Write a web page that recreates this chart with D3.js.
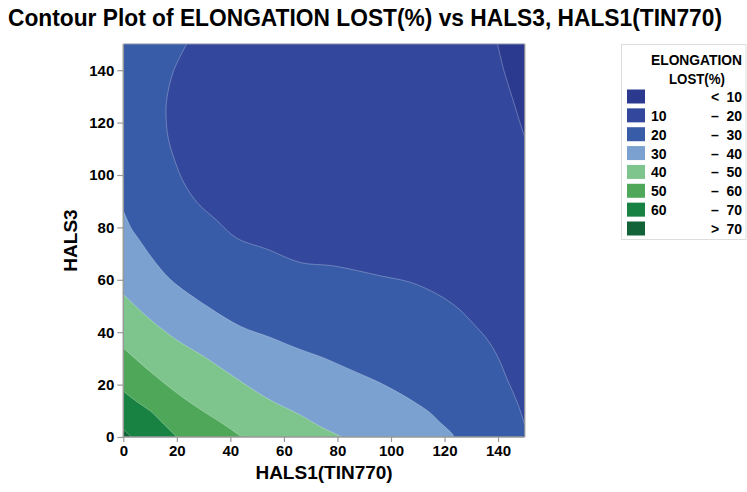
<!DOCTYPE html>
<html><head><meta charset="utf-8">
<script src="https://cdn.jsdelivr.net/npm/d3@7"></script>
<style>
body{margin:0;background:#fff;}
text{font-family:"Liberation Sans",Arial,sans-serif;font-weight:bold;fill:#000;}
</style></head>
<body><svg id="c" width="747" height="492"></svg>
<script>
// ---- data ----
const title = "Contour Plot of ELONGATION LOST(%) vs HALS3, HALS1(TIN770)";
const xLabel = "HALS1(TIN770)";
const yLabel = "HALS3";
const xTicks = [0, 20, 40, 60, 80, 100, 120, 140];
const yTicks = [0, 20, 40, 60, 80, 100, 120, 140];
const levels = [10, 20, 30, 40, 50, 60, 70];
const bandColors = ["#2B3A8F", "#33479C", "#385CA8", "#7BA1D0", "#7DC58C", "#4FA85A", "#188243", "#136338"];
const legendLow = ["", "10", "20", "30", "40", "50", "60", ""];
const legendSym = ["<", "\u2013", "\u2013", "\u2013", "\u2013", "\u2013", "\u2013", ">"];
const legendHigh = ["10", "20", "30", "40", "50", "60", "70", "70"];
// contour lines: [HALS1, HALS3]
const contour10 = [[139.8,150],[142.3,139.5],[145.4,129.3],[148.5,119],[150,114.5]];
const contour20 = [[23.7,150],[18.7,139.5],[16.2,128.6],[16,121.6],[16.8,114],[19.4,105],[22.5,97.3],[27.5,89.6],[35,82.6],[42.5,75.8],[53.7,71.7],[66.1,66.6],[78.6,65.3],[96.1,61.5],[107.4,59],[117.3,54.5],[124.8,49.4],[131,43],[136,37.2],[139.8,30.8],[143.5,21.9],[147.3,12.9],[150,4.6]];
const contour30 = [[0,86.4],[3.1,79.4],[5.6,75.8],[10.6,68.5],[17.5,60.2],[31.2,50],[43.7,42.3],[55,38],[66.1,33.4],[74.9,30.2],[84.9,25.7],[96.1,20.6],[107.4,14.2],[114.8,9.1],[118.6,5.3],[122.9,1.2],[123.5,0]];
const contour40 = [[0,54.5],[10,44.9],[20,37],[30,30.8],[42,22.5],[53.7,14.8],[66.1,8.4],[73.6,4],[81.8,0]];
const contour50 = [[0,34],[10,25],[20,16.8],[30,9.7],[38,4.5],[44.3,0]];
const contour60 = [[0,17.5],[5,13.5],[10,10],[15,5],[20,0]];
const contour70 = [[0,3],[1.5,1.5],[3,0]];

// ---- drawing ----
const svg = d3.select("#c");
const L = 123.3, R = 524.8, T = 44, B = 437;
const x = d3.scaleLinear().domain([0,150]).range([L,R]);
const y = d3.scaleLinear().domain([0,150]).range([B,T]);
const line = d3.line().x(d=>x(d[0])).y(d=>y(d[1])).curve(d3.curveCatmullRom.alpha(0.5));

const g = svg.append("g");
g.append("rect").attr("x",L).attr("y",T).attr("width",R-L).attr("height",B-T).attr("fill",bandColors[1]);

function region(pts, corners, color){
  const d = line(pts) + corners.map(c=>"L"+x(c[0])+","+y(c[1])).join("") + "Z";
  g.append("path").attr("d", d).attr("fill", color);
}
region(contour10, [[150,150]], bandColors[0]);
region(contour20, [[150,0],[0,0],[0,150]], bandColors[2]);
region(contour30, [[0,0]], bandColors[3]);
region(contour40, [[0,0]], bandColors[4]);
region(contour50, [[0,0]], bandColors[5]);
region(contour60, [[0,0]], bandColors[6]);
region(contour70, [[0,0]], bandColors[7]);
[contour10,contour20,contour30,contour40,contour50,contour60,contour70].forEach(c=>{
  g.append("path").attr("d", line(c)).attr("fill","none").attr("stroke","rgba(255,255,255,0.35)").attr("stroke-width",0.8);
});

// borders
svg.append("line").attr("x1",L).attr("x2",R).attr("y1",T).attr("y2",T).attr("stroke","#8a8fa8").attr("stroke-width",1.2);
svg.append("line").attr("x1",R).attr("x2",R).attr("y1",T).attr("y2",B).attr("stroke","#999").attr("stroke-width",1.2);

// axes
const xAxis = svg.append("g").attr("transform",`translate(0,${B})`)
  .call(d3.axisBottom(x).tickValues(xTicks).tickSize(5).tickPadding(3));
const yAxis = svg.append("g").attr("transform",`translate(${L},0)`)
  .call(d3.axisLeft(y).tickValues(yTicks).tickSize(6).tickPadding(3));
[xAxis,yAxis].forEach(a=>{
  a.select(".domain").attr("stroke","#999").attr("stroke-width",1.5);
  a.selectAll(".tick line").attr("stroke","#999").attr("stroke-width",1.2);
  a.selectAll(".tick text").attr("font-size",15).attr("font-family","Liberation Sans, Arial, sans-serif").attr("font-weight","bold").attr("fill","#000");
});
xAxis.select(".domain").attr("d",`M${L},0H${R}`);
yAxis.select(".domain").attr("d",`M0,${B}V${T}`);

// title & labels
svg.append("text").attr("x",8).attr("y",26).attr("font-size",23)
  .attr("textLength",714).attr("lengthAdjust","spacingAndGlyphs").text(title);
svg.append("text").attr("x",(L+R)/2).attr("y",479).attr("text-anchor","middle").attr("font-size",19).text(xLabel);
svg.append("text").attr("transform",`translate(77,${(T+B)/2})rotate(-90)`).attr("text-anchor","middle").attr("font-size",19).text(yLabel);

// legend
const lg = svg.append("g");
lg.append("rect").attr("x",621.5).attr("y",44.5).attr("width",124.5).attr("height",195).attr("fill","#fff").attr("stroke","#ddd");
lg.append("text").attr("x",696.5).attr("y",65).attr("text-anchor","middle").attr("font-size",14)
  .attr("textLength",91).attr("lengthAdjust","spacingAndGlyphs").text("ELONGATION");
lg.append("text").attr("x",697).attr("y",84).attr("text-anchor","middle").attr("font-size",14)
  .attr("textLength",56).attr("lengthAdjust","spacingAndGlyphs").text("LOST(%)");
const rowY = d3.scaleLinear().domain([0,7]).range([89.5,221.5]);
bandColors.forEach((c,i)=>{
  lg.append("rect").attr("x",627).attr("y",rowY(i)).attr("width",18).attr("height",14).attr("fill",c);
  lg.append("text").attr("x",651).attr("y",rowY(i)+12.5).attr("font-size",14).text(legendLow[i]);
  lg.append("text").attr("x",715).attr("y",rowY(i)+12.5).attr("text-anchor","middle").attr("font-size",14).text(legendSym[i]);
  lg.append("text").attr("x",742).attr("y",rowY(i)+12.5).attr("text-anchor","end").attr("font-size",14).text(legendHigh[i]);
});
</script></body></html>
